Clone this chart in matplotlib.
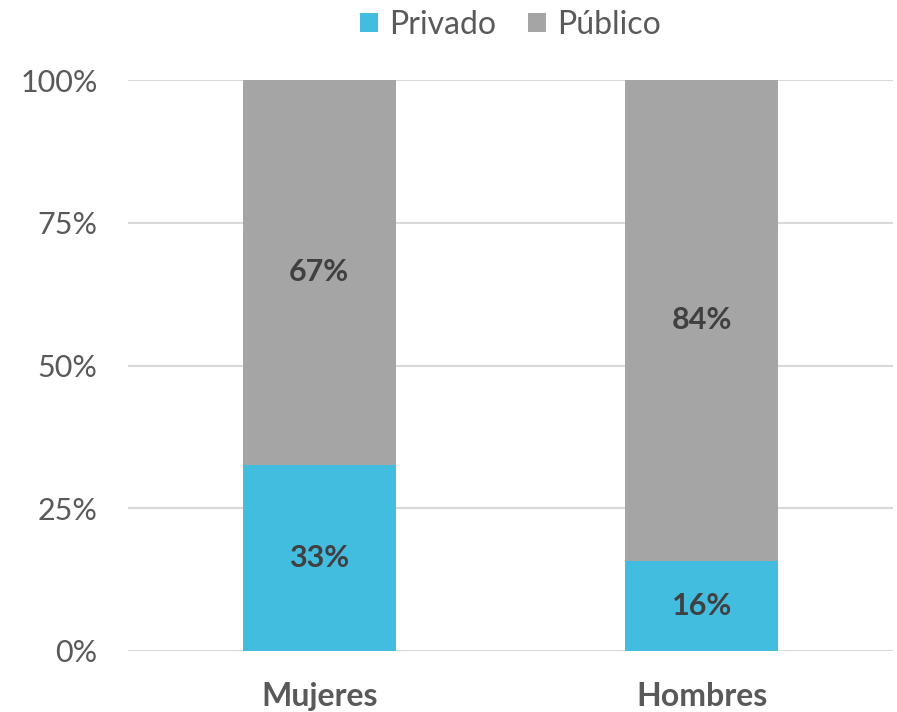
import numpy as np
import matplotlib.pyplot as plt

categorias = ['Mujeres', 'Hombres']
privado = np.array([0.326, 0.158])
publico = 1 - privado
etiquetas_privado = ['33%', '16%']
etiquetas_publico = ['67%', '84%']
ticks_y = [0, 0.25, 0.5, 0.75, 1.0]
ticks_y_lbl = ['0%', '25%', '50%', '75%', '100%']

azul = '#42BDE0'
gris = '#A5A5A5'
texto = '#595959'
etiq = '#404040'

plt.rcParams['font.family'] = ['Lato', 'DejaVu Sans']

fig = plt.figure(figsize=(8.97, 7.12), dpi=100)
ax = fig.add_axes([0.1427, 0.0857, 0.8528, 0.8019])

x = np.arange(len(categorias))
b1 = ax.bar(x, privado, width=0.4, color=azul, label='Privado')
b2 = ax.bar(x, publico, width=0.4, bottom=privado, color=gris, label='Público')

ax.bar_label(b1, labels=etiquetas_privado, label_type='center', fontsize=22,
             fontweight='bold', color=etiq)
ax.bar_label(b2, labels=etiquetas_publico, label_type='center', fontsize=22,
             fontweight='bold', color=etiq)

ax.set_xlim(-0.5, 1.5)
ax.set_ylim(0, 1)
ax.set_yticks(ticks_y)
ax.set_yticklabels(ticks_y_lbl, fontsize=22, color=texto)
ax.set_xticks(x)
ax.set_xticklabels(categorias, fontsize=23, fontweight='bold', color=texto)
ax.tick_params(length=0)
ax.tick_params(axis='y', pad=22)
ax.tick_params(axis='x', pad=22)

ax.grid(axis='y', color='#D9D9D9', linewidth=1.5)
ax.set_axisbelow(True)
for s in ax.spines.values():
    s.set_visible(False)

fig.legend(handles=[b1, b2], loc='upper center', bbox_to_anchor=(0.569, 1.027), ncol=2,
           frameon=False, fontsize=23, labelcolor=texto, handlelength=0.55,
           handleheight=0.55, handletextpad=0.35, columnspacing=1.0)

plt.savefig('out.png', dpi=100)
